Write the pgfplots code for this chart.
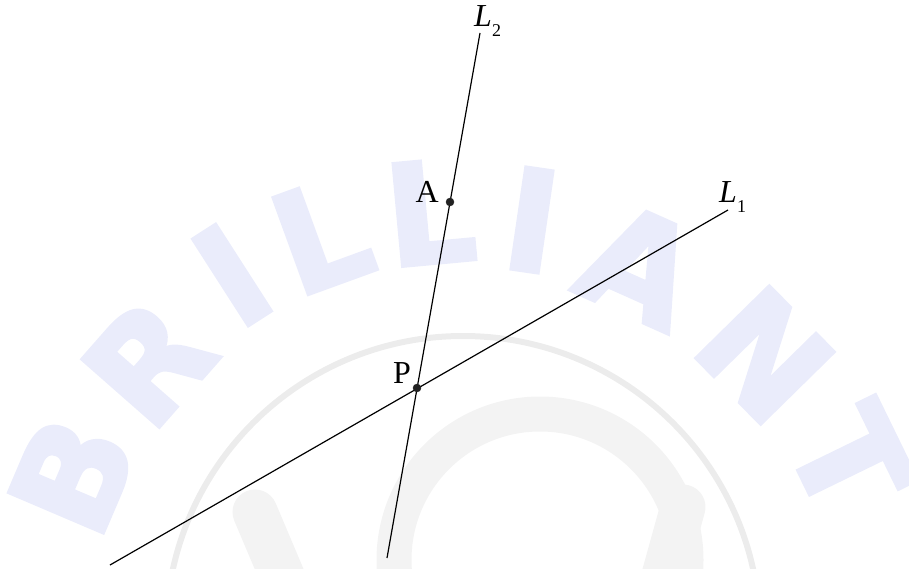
\documentclass[border=0pt]{standalone}
\usepackage{fontspec}
\setmainfont{Liberation Serif}
\newfontfamily\wmfont{DejaVu Sans}[BoldFeatures={FakeBold=3}]
\usepackage{pgfplots}
\pgfplotsset{compat=1.18}
\definecolor{wmblue}{RGB}{234,236,251}
\definecolor{wmgrey}{RGB}{236,236,236}
\definecolor{wmgrey2}{RGB}{243,243,243}
\definecolor{dotc}{RGB}{34,34,34}
\begin{document}
\begin{tikzpicture}
\begin{axis}[
  width=909pt, height=569pt, scale only axis,
  hide axis, xmin=0, xmax=909, ymin=0, ymax=569, y dir=reverse,
  clip=true,
]
% faint watermark
\draw[wmgrey, line width=6pt] (axis cs:463,633) circle[radius=297];
\draw[wmgrey2, line width=35pt] (axis cs:540,560) circle[radius=146];
\draw[wmgrey2, line width=45pt, line cap=round] (axis cs:255,512) -- (axis cs:288,590);
\draw[wmgrey2, line width=45pt, line cap=round] (axis cs:683,507) -- (axis cs:660,590);
\begin{scope}[every node/.style={text=wmblue, font=\wmfont\bfseries\fontsize{140}{140}\selectfont, inner sep=0, anchor=center}]
\node[rotate=66.9]  at (axis cs:72,475)  {B};
\node[rotate=48.7]  at (axis cs:148,362) {R};
\node[rotate=32.7]  at (axis cs:232,275) {I};
\node[rotate=20]    at (axis cs:321,235) {L};
\node[rotate=5.3]   at (axis cs:430,212) {L};
\node[rotate=-8.3]  at (axis cs:532,220) {I};
\node[rotate=-24.1] at (axis cs:640,265) {A};
\node[rotate=-45.5] at (axis cs:765,355) {N};
\node[rotate=-64]   at (axis cs:850,460) {T};
\end{scope}
% lines
\addplot[black, line width=1.2pt] coordinates {(110,565) (728,210)};
\addplot[black, line width=1.2pt] coordinates {(387,558) (480,33)};
% points
\addplot[only marks, mark=*, mark size=4pt, dotc, mark options={fill=dotc, draw=dotc}] coordinates {(450,202) (417,388)};
% labels
\node[anchor=base east, inner sep=0, font=\fontsize{32}{32}\selectfont] at (axis cs:439,203) {A};
\node[anchor=base east, inner sep=0, font=\fontsize{32}{32}\selectfont] at (axis cs:411,383) {P};
\node[anchor=base west, inner sep=0, font=\fontsize{32}{32}\selectfont] at (axis cs:474,27) {\itshape L\raisebox{-10pt}{\upshape\fontsize{18}{18}\selectfont 2}};
\node[anchor=base west, inner sep=0, font=\fontsize{32}{32}\selectfont] at (axis cs:719,203) {\itshape L\raisebox{-10pt}{\upshape\fontsize{18}{18}\selectfont 1}};
\end{axis}
\pgfresetboundingbox
\path (current axis.south west) rectangle (current axis.north east);
\end{tikzpicture}
\end{document}
